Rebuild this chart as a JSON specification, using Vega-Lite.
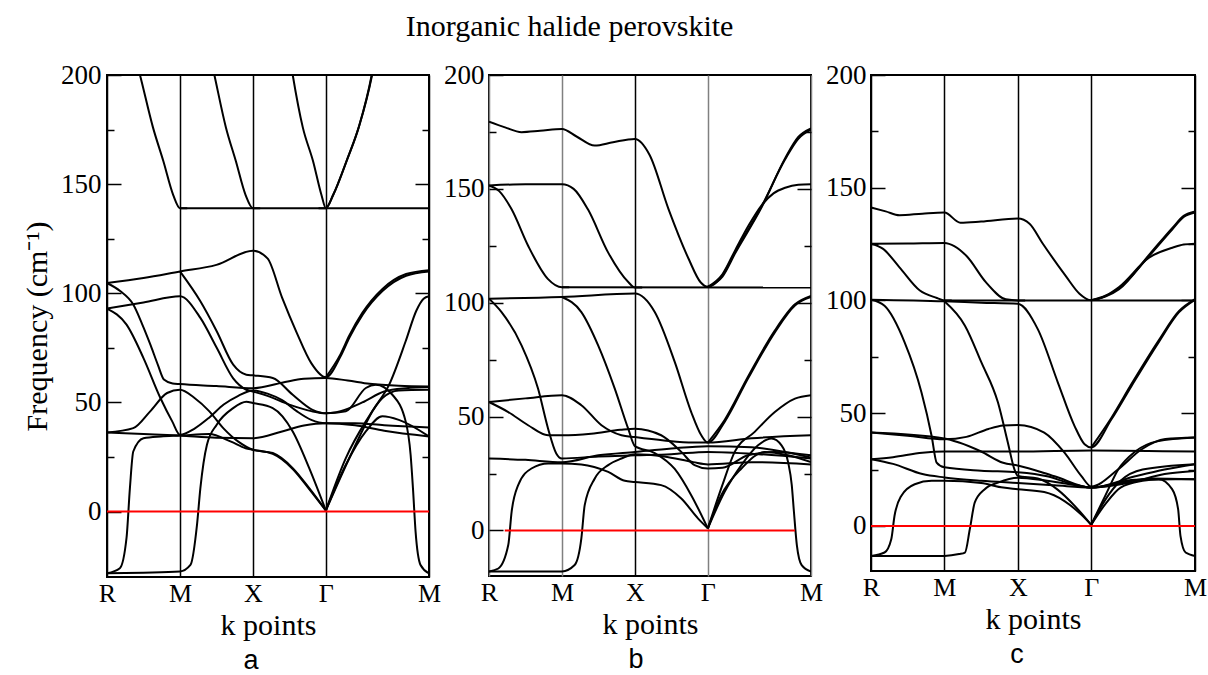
{
"$schema": "https://vega.github.io/schema/vega-lite/v6.json",
"background": "white",
"padding": {"left": 21, "top": 12, "right": 2, "bottom": 0},
"title": {"text": "Inorganic halide perovskite", "font": "Liberation Serif", "fontSize": 30, "fontWeight": "normal", "color": "black", "anchor": "middle", "offset": 18, "dx": -45},
"spacing": 60,
"bounds": "flush",
"datasets": {
"ra": [{"k": 0, "k2": 2.207, "v": 0}],
"rb": [{"k": 0.108, "k2": 2.097, "v": 0}],
"rc": [{"k": 0, "k2": 2.207, "v": 0}],
"a": [
{"s":"a1","k":0,"v":104.7},{"s":"a1","k":0.25,"v":107},{"s":"a1","k":0.5,"v":110},{"s":"a1","k":0.75,"v":113},{"s":"a1","k":1.0,"v":119.5},{"s":"a1","k":1.1,"v":116},{"s":"a1","k":1.2,"v":98},{"s":"a1","k":1.3,"v":82},{"s":"a1","k":1.4,"v":68},{"s":"a1","k":1.5,"v":61.5},{"s":"a1","k":1.6,"v":71},{"s":"a1","k":1.66,"v":79.5},{"s":"a1","k":1.75,"v":90},{"s":"a1","k":1.888,"v":101},{"s":"a1","k":2.05,"v":108},{"s":"a1","k":2.207,"v":110},
{"s":"a2","k":1.5,"v":61.5},{"s":"a2","k":1.6,"v":72},{"s":"a2","k":1.66,"v":80.5},{"s":"a2","k":1.75,"v":91},{"s":"a2","k":1.888,"v":102},{"s":"a2","k":2.05,"v":108.8},{"s":"a2","k":2.207,"v":110.6},
{"s":"a3","k":0,"v":104.7},{"s":"a3","k":0.09,"v":101},{"s":"a3","k":0.18,"v":94.8},{"s":"a3","k":0.24,"v":86},{"s":"a3","k":0.3,"v":76},{"s":"a3","k":0.35,"v":67},{"s":"a3","k":0.39,"v":60.5},{"s":"a3","k":0.45,"v":58.7},{"s":"a3","k":0.5,"v":58.4},{"s":"a3","k":0.75,"v":57.5},{"s":"a3","k":1.0,"v":56.5},{"s":"a3","k":1.2,"v":59},{"s":"a3","k":1.35,"v":60.8},{"s":"a3","k":1.5,"v":61.2},{"s":"a3","k":1.65,"v":60},{"s":"a3","k":1.8,"v":58.5},{"s":"a3","k":2.0,"v":57.6},{"s":"a3","k":2.207,"v":57.3},
{"s":"a4","k":0,"v":93},{"s":"a4","k":0.134,"v":85.6},{"s":"a4","k":0.25,"v":70.3},{"s":"a4","k":0.366,"v":52},{"s":"a4","k":0.447,"v":41.3},{"s":"a4","k":0.5,"v":35.2},{"s":"a4","k":0.6,"v":38},{"s":"a4","k":0.7,"v":43},{"s":"a4","k":0.8,"v":49},{"s":"a4","k":0.9,"v":53},{"s":"a4","k":1.0,"v":55.5},{"s":"a4","k":1.1,"v":54},{"s":"a4","k":1.2,"v":51},{"s":"a4","k":1.3,"v":46},{"s":"a4","k":1.4,"v":42},{"s":"a4","k":1.5,"v":40.5},{"s":"a4","k":1.7,"v":40.5},{"s":"a4","k":1.9,"v":39.5},{"s":"a4","k":2.207,"v":38.5},
{"s":"a5","k":0,"v":93},{"s":"a5","k":0.25,"v":95.8},{"s":"a5","k":0.5,"v":98.6},{"s":"a5","k":0.64,"v":88.7},{"s":"a5","k":0.752,"v":75},{"s":"a5","k":0.865,"v":61},{"s":"a5","k":0.955,"v":55.8},{"s":"a5","k":1.0,"v":55},{"s":"a5","k":1.1,"v":53},{"s":"a5","k":1.25,"v":49},{"s":"a5","k":1.4,"v":46},{"s":"a5","k":1.5,"v":45},{"s":"a5","k":1.637,"v":45.9},{"s":"a5","k":1.774,"v":56.6},{"s":"a5","k":1.842,"v":58.1},{"s":"a5","k":1.956,"v":53.5},{"s":"a5","k":2.047,"v":41.3},{"s":"a5","k":2.081,"v":26},{"s":"a5","k":2.097,"v":10.7},{"s":"a5","k":2.115,"v":-9.2},{"s":"a5","k":2.149,"v":-24.5},{"s":"a5","k":2.207,"v":-28.3},
{"s":"a6","k":0.5,"v":110},{"s":"a6","k":0.64,"v":96.3},{"s":"a6","k":0.752,"v":82.6},{"s":"a6","k":0.865,"v":67.3},{"s":"a6","k":0.955,"v":62.7},{"s":"a6","k":1.0,"v":62.4},{"s":"a6","k":1.136,"v":61.2},{"s":"a6","k":1.273,"v":53.5},{"s":"a6","k":1.409,"v":46.6},{"s":"a6","k":1.5,"v":45},{"s":"a6","k":1.6,"v":46},{"s":"a6","k":1.75,"v":50},{"s":"a6","k":1.9,"v":55},{"s":"a6","k":2.05,"v":56.5},{"s":"a6","k":2.207,"v":57},
{"s":"a7","k":0,"v":36.2},{"s":"a7","k":0.18,"v":38.2},{"s":"a7","k":0.296,"v":45.9},{"s":"a7","k":0.412,"v":54.3},{"s":"a7","k":0.5,"v":55.8},{"s":"a7","k":0.6,"v":52},{"s":"a7","k":0.7,"v":46},{"s":"a7","k":0.8,"v":38},{"s":"a7","k":0.9,"v":32},{"s":"a7","k":1.0,"v":28.3},{"s":"a7","k":1.136,"v":26.8},{"s":"a7","k":1.273,"v":19.9},{"s":"a7","k":1.386,"v":10.7},{"s":"a7","k":1.5,"v":0.5},
{"s":"a7g","k":1.5,"v":0.5},{"s":"a7g","k":1.637,"v":21.4},{"s":"a7g","k":1.774,"v":36.7},{"s":"a7g","k":1.888,"v":43.6},{"s":"a7g","k":2.0,"v":42},{"s":"a7g","k":2.207,"v":34.4},
{"s":"a8","k":0,"v":36.2},{"s":"a8","k":0.25,"v":35.5},{"s":"a8","k":0.5,"v":34.8},{"s":"a8","k":0.75,"v":33.8},{"s":"a8","k":1.0,"v":33.6},{"s":"a8","k":1.2,"v":36.7},{"s":"a8","k":1.35,"v":39.4},{"s":"a8","k":1.5,"v":40.5},{"s":"a8","k":1.7,"v":39.5},{"s":"a8","k":1.9,"v":37},{"s":"a8","k":2.207,"v":34.4},
{"s":"a9","k":0,"v":-28.3},{"s":"a9","k":0.088,"v":-26},{"s":"a9","k":0.134,"v":-12},{"s":"a9","k":0.157,"v":10.7},{"s":"a9","k":0.18,"v":27.5},{"s":"a9","k":0.25,"v":33.6},{"s":"a9","k":0.37,"v":34.4},{"s":"a9","k":0.5,"v":34.8},{"s":"a9","k":0.7,"v":35.5},{"s":"a9","k":0.85,"v":32},{"s":"a9","k":0.95,"v":29},{"s":"a9","k":1.0,"v":28.3},{"s":"a9","k":1.136,"v":26.4},{"s":"a9","k":1.273,"v":19.5},{"s":"a9","k":1.386,"v":10.3},{"s":"a9","k":1.5,"v":0.5},
{"s":"a9g","k":1.5,"v":0.5},{"s":"a9g","k":1.682,"v":27.5},{"s":"a9g","k":1.819,"v":45.9},{"s":"a9g","k":1.933,"v":58},{"s":"a9g","k":2.047,"v":78},{"s":"a9g","k":2.12,"v":92},{"s":"a9g","k":2.17,"v":97.5},{"s":"a9g","k":2.207,"v":98.6},
{"s":"a10","k":0,"v":-28.3},{"s":"a10","k":0.25,"v":-28},{"s":"a10","k":0.5,"v":-27.5},{"s":"a10","k":0.572,"v":-24.5},{"s":"a10","k":0.617,"v":-6},{"s":"a10","k":0.64,"v":10.7},{"s":"a10","k":0.685,"v":30.6},{"s":"a10","k":0.752,"v":39.8},{"s":"a10","k":0.865,"v":47.4},{"s":"a10","k":0.955,"v":50.3},{"s":"a10","k":1.0,"v":49.7},{"s":"a10","k":1.136,"v":47.4},{"s":"a10","k":1.273,"v":36.7},{"s":"a10","k":1.386,"v":19.9},{"s":"a10","k":1.5,"v":0.5},
{"s":"a10g","k":1.5,"v":0.5},{"s":"a10g","k":1.637,"v":24.5},{"s":"a10g","k":1.774,"v":41.3},{"s":"a10g","k":1.888,"v":52},{"s":"a10g","k":2.0,"v":55.5},{"s":"a10g","k":2.207,"v":55.8},
{"s":"a11","k":0.5,"v":139},{"s":"a11","k":2.207,"v":139},
{"s":"a12","k":0.17,"v":214},{"s":"a12","k":0.226,"v":200},{"s":"a12","k":0.315,"v":176},{"s":"a12","k":0.386,"v":160.6},{"s":"a12","k":0.454,"v":145},{"s":"a12","k":0.5,"v":139},{"s":"a12","k":0.55,"v":139},
{"s":"a13","k":0.69,"v":214},{"s":"a13","k":0.736,"v":200},{"s":"a13","k":0.815,"v":176},{"s":"a13","k":0.883,"v":160.6},{"s":"a13","k":0.95,"v":145},{"s":"a13","k":1.0,"v":139},{"s":"a13","k":1.05,"v":139},
{"s":"a14","k":1.24,"v":214},{"s":"a14","k":1.273,"v":200},{"s":"a14","k":1.342,"v":176},{"s":"a14","k":1.412,"v":160.6},{"s":"a14","k":1.47,"v":145},{"s":"a14","k":1.5,"v":139},{"s":"a14","k":1.55,"v":145},{"s":"a14","k":1.642,"v":160.6},{"s":"a14","k":1.725,"v":176},{"s":"a14","k":1.814,"v":200},{"s":"a14","k":1.84,"v":210},
{"s":"a16","k":1.45,"v":139},{"s":"a16","k":1.5,"v":139},{"s":"a16","k":1.553,"v":145.5},{"s":"a16","k":1.647,"v":161.5},{"s":"a16","k":1.731,"v":177.2},{"s":"a16","k":1.82,"v":201},{"s":"a16","k":1.845,"v":210}
],
"b": [
{"s":"b1","k":0,"v":179.5},{"s":"b1","k":0.11,"v":177},{"s":"b1","k":0.223,"v":174.9},{"s":"b1","k":0.35,"v":175.5},{"s":"b1","k":0.5,"v":176.3},{"s":"b1","k":0.6,"v":173},{"s":"b1","k":0.724,"v":169},{"s":"b1","k":0.85,"v":170.5},{"s":"b1","k":1.0,"v":171.9},{"s":"b1","k":1.1,"v":165},{"s":"b1","k":1.231,"v":141},{"s":"b1","k":1.368,"v":119.3},{"s":"b1","k":1.45,"v":109},{"s":"b1","k":1.5,"v":107},{"s":"b1","k":1.6,"v":112},{"s":"b1","k":1.687,"v":122.3},{"s":"b1","k":1.871,"v":142.7},{"s":"b1","k":2.03,"v":163},{"s":"b1","k":2.12,"v":172},{"s":"b1","k":2.207,"v":176},
{"s":"b1b","k":1.5,"v":107},{"s":"b1b","k":1.6,"v":112.5},{"s":"b1b","k":1.687,"v":123},{"s":"b1b","k":1.78,"v":134},{"s":"b1b","k":1.871,"v":143},{"s":"b1b","k":1.95,"v":148},{"s":"b1b","k":2.03,"v":150.5},{"s":"b1b","k":2.12,"v":151.8},{"s":"b1b","k":2.207,"v":152},
{"s":"b1c","k":1.5,"v":107},{"s":"b1c","k":1.6,"v":111.5},{"s":"b1c","k":1.687,"v":121.7},{"s":"b1c","k":1.871,"v":142.2},{"s":"b1c","k":2.03,"v":163.5},{"s":"b1c","k":2.12,"v":172.8},{"s":"b1c","k":2.207,"v":176.6},
{"s":"b2","k":0,"v":151.5},{"s":"b2","k":0.25,"v":152},{"s":"b2","k":0.5,"v":152},{"s":"b2","k":0.58,"v":150},{"s":"b2","k":0.678,"v":141},{"s":"b2","k":0.817,"v":122},{"s":"b2","k":0.956,"v":109},{"s":"b2","k":1.0,"v":106.7},{"s":"b2","k":1.05,"v":106.7},
{"s":"b3","k":0,"v":151.5},{"s":"b3","k":0.07,"v":149},{"s":"b3","k":0.155,"v":141},{"s":"b3","k":0.268,"v":125},{"s":"b3","k":0.403,"v":110.5},{"s":"b3","k":0.5,"v":106.8},{"s":"b3","k":0.55,"v":106.8},
{"s":"b4","k":0.5,"v":106.8},{"s":"b4","k":2.207,"v":106.7},
{"s":"b5","k":0,"v":101.8},{"s":"b5","k":0.5,"v":102.5},{"s":"b5","k":1.0,"v":104},{"s":"b5","k":1.136,"v":95.9},{"s":"b5","k":1.273,"v":74},{"s":"b5","k":1.386,"v":52},{"s":"b5","k":1.455,"v":41.8},{"s":"b5","k":1.5,"v":38.6},{"s":"b5","k":1.615,"v":47.7},{"s":"b5","k":1.775,"v":66.7},{"s":"b5","k":1.959,"v":87},{"s":"b5","k":2.097,"v":98.8},{"s":"b5","k":2.207,"v":102.5},
{"s":"b5b","k":1.5,"v":38.6},{"s":"b5b","k":1.615,"v":48.5},{"s":"b5b","k":1.775,"v":67.5},{"s":"b5b","k":1.959,"v":87.8},{"s":"b5b","k":2.097,"v":99.3},{"s":"b5b","k":2.207,"v":103},
{"s":"b6","k":0,"v":101.8},{"s":"b6","k":0.086,"v":95.9},{"s":"b6","k":0.223,"v":81.3},{"s":"b6","k":0.336,"v":62.3},{"s":"b6","k":0.405,"v":44.7},{"s":"b6","k":0.461,"v":33.8},{"s":"b6","k":0.5,"v":31.6},{"s":"b6","k":0.75,"v":32.5},{"s":"b6","k":1.0,"v":33},{"s":"b6","k":1.25,"v":33.5},{"s":"b6","k":1.5,"v":34.5},{"s":"b6","k":1.85,"v":33.5},{"s":"b6","k":2.207,"v":31.6},
{"s":"b7","k":0.5,"v":102.5},{"s":"b7","k":0.633,"v":95.9},{"s":"b7","k":0.748,"v":81.3},{"s":"b7","k":0.862,"v":62.3},{"s":"b7","k":0.954,"v":44.7},{"s":"b7","k":1.0,"v":37},{"s":"b7","k":1.136,"v":34},{"s":"b7","k":1.273,"v":27},{"s":"b7","k":1.386,"v":15.5},{"s":"b7","k":1.5,"v":0.9},
{"s":"b7g","k":1.5,"v":0.9},{"s":"b7g","k":1.592,"v":15.5},{"s":"b7g","k":1.73,"v":27.2},{"s":"b7g","k":1.89,"v":34.5},{"s":"b7g","k":2.05,"v":33},{"s":"b7g","k":2.207,"v":30},
{"s":"b8","k":0,"v":56.4},{"s":"b8","k":0.25,"v":58},{"s":"b8","k":0.5,"v":59.4},{"s":"b8","k":0.633,"v":55},{"s":"b8","k":0.771,"v":46.2},{"s":"b8","k":0.908,"v":41.8},{"s":"b8","k":1.0,"v":41},{"s":"b8","k":1.2,"v":39.5},{"s":"b8","k":1.4,"v":38.6},{"s":"b8","k":1.5,"v":38.6},{"s":"b8","k":1.8,"v":40.5},{"s":"b8","k":2.207,"v":41.8},
{"s":"b9","k":0,"v":56.4},{"s":"b9","k":0.132,"v":52},{"s":"b9","k":0.268,"v":46.2},{"s":"b9","k":0.405,"v":41.8},{"s":"b9","k":0.5,"v":41.8},{"s":"b9","k":0.7,"v":42.5},{"s":"b9","k":0.9,"v":44.2},{"s":"b9","k":1.0,"v":44.7},{"s":"b9","k":1.18,"v":41.8},{"s":"b9","k":1.318,"v":34.5},{"s":"b9","k":1.409,"v":28.7},{"s":"b9","k":1.5,"v":27.2},{"s":"b9","k":1.6,"v":27.5},{"s":"b9","k":1.775,"v":33},{"s":"b9","k":1.959,"v":34.5},{"s":"b9","k":2.207,"v":33},
{"s":"b10","k":0,"v":31.6},{"s":"b10","k":0.25,"v":31},{"s":"b10","k":0.5,"v":30},{"s":"b10","k":0.75,"v":33},{"s":"b10","k":1.0,"v":34.5},{"s":"b10","k":1.25,"v":36},{"s":"b10","k":1.5,"v":37},{"s":"b10","k":1.8,"v":36.5},{"s":"b10","k":2.207,"v":32},
{"s":"b11","k":0,"v":-18},{"s":"b11","k":0.064,"v":-16.7},{"s":"b11","k":0.132,"v":-6.4},{"s":"b11","k":0.155,"v":8.2},{"s":"b11","k":0.2,"v":19.9},{"s":"b11","k":0.291,"v":27.2},{"s":"b11","k":0.405,"v":29.4},{"s":"b11","k":0.5,"v":29.4},{"s":"b11","k":0.633,"v":29},{"s":"b11","k":0.817,"v":25.7},{"s":"b11","k":0.931,"v":21.8},{"s":"b11","k":1.0,"v":21.3},{"s":"b11","k":1.18,"v":19.9},{"s":"b11","k":1.318,"v":14},{"s":"b11","k":1.432,"v":5.3},{"s":"b11","k":1.5,"v":0.9},
{"s":"b11g","k":1.5,"v":0.9},{"s":"b11g","k":1.615,"v":17},{"s":"b11g","k":1.73,"v":28.7},{"s":"b11g","k":1.844,"v":37.4},{"s":"b11g","k":1.936,"v":40.4},{"s":"b11g","k":2.005,"v":37.4},{"s":"b11g","k":2.05,"v":30},{"s":"b11g","k":2.075,"v":20},{"s":"b11g","k":2.09,"v":8.2},{"s":"b11g","k":2.11,"v":-6.4},{"s":"b11g","k":2.143,"v":-15.2},{"s":"b11g","k":2.207,"v":-18},
{"s":"b12","k":0,"v":-18},{"s":"b12","k":0.5,"v":-18},{"s":"b12","k":0.587,"v":-15.2},{"s":"b12","k":0.633,"v":-3.5},{"s":"b12","k":0.656,"v":11.1},{"s":"b12","k":0.725,"v":22.8},{"s":"b12","k":0.817,"v":28.7},{"s":"b12","k":0.908,"v":31.6},{"s":"b12","k":1.0,"v":33.5},{"s":"b12","k":1.2,"v":32.5},{"s":"b12","k":1.4,"v":30},{"s":"b12","k":1.5,"v":29},{"s":"b12","k":1.8,"v":30},{"s":"b12","k":2.207,"v":29},
{"s":"b13","k":1.5,"v":0.9},{"s":"b13","k":1.6,"v":20},{"s":"b13","k":1.684,"v":34.5},{"s":"b13","k":1.821,"v":43.3},{"s":"b13","k":1.959,"v":52},{"s":"b13","k":2.097,"v":57.9},{"s":"b13","k":2.207,"v":59.4}
],
"c": [
{"s":"c1","k":0,"v":141.2},{"s":"c1","k":0.1,"v":139.5},{"s":"c1","k":0.194,"v":137.8},{"s":"c1","k":0.35,"v":138.5},{"s":"c1","k":0.5,"v":139},{"s":"c1","k":0.609,"v":134.5},{"s":"c1","k":0.75,"v":135},{"s":"c1","k":1.0,"v":136.3},{"s":"c1","k":1.08,"v":134},{"s":"c1","k":1.166,"v":125.6},{"s":"c1","k":1.326,"v":110.9},{"s":"c1","k":1.42,"v":103},{"s":"c1","k":1.5,"v":100.1},{"s":"c1","k":1.6,"v":102},{"s":"c1","k":1.69,"v":105.5},{"s":"c1","k":1.894,"v":119.7},{"s":"c1","k":2.053,"v":131.6},{"s":"c1","k":2.13,"v":137},{"s":"c1","k":2.207,"v":139},
{"s":"c1b","k":1.5,"v":100.1},{"s":"c1b","k":1.6,"v":102.2},{"s":"c1b","k":1.69,"v":106},{"s":"c1b","k":1.894,"v":119},{"s":"c1b","k":2.053,"v":123.4},{"s":"c1b","k":2.13,"v":124.8},{"s":"c1b","k":2.207,"v":125.2},
{"s":"c1c","k":1.5,"v":100.1},{"s":"c1c","k":1.6,"v":101.8},{"s":"c1c","k":1.69,"v":105},{"s":"c1c","k":1.894,"v":120.2},{"s":"c1c","k":2.053,"v":132.2},{"s":"c1c","k":2.13,"v":137.5},{"s":"c1c","k":2.207,"v":139.5},
{"s":"c2","k":0,"v":125.2},{"s":"c2","k":0.25,"v":125.3},{"s":"c2","k":0.5,"v":125.5},{"s":"c2","k":0.57,"v":124},{"s":"c2","k":0.651,"v":119.7},{"s":"c2","k":0.785,"v":107.9},{"s":"c2","k":0.918,"v":100.5},{"s":"c2","k":1.0,"v":100},{"s":"c2","k":1.05,"v":100},
{"s":"c3","k":0,"v":125.2},{"s":"c3","k":0.08,"v":123},{"s":"c3","k":0.194,"v":114.7},{"s":"c3","k":0.333,"v":104.4},{"s":"c3","k":0.449,"v":101.1},{"s":"c3","k":0.5,"v":100},{"s":"c3","k":0.55,"v":100},
{"s":"c4","k":0.5,"v":100},{"s":"c4","k":2.207,"v":100},
{"s":"c5","k":0,"v":100.3},{"s":"c5","k":0.5,"v":99.6},{"s":"c5","k":0.75,"v":99},{"s":"c5","k":1.0,"v":98.5},{"s":"c5","k":1.136,"v":87.3},{"s":"c5","k":1.273,"v":63.6},{"s":"c5","k":1.386,"v":44.4},{"s":"c5","k":1.455,"v":36.2},{"s":"c5","k":1.5,"v":34.8},{"s":"c5","k":1.638,"v":47.3},{"s":"c5","k":1.775,"v":62.1},{"s":"c5","k":1.959,"v":81.4},{"s":"c5","k":2.097,"v":94.7},{"s":"c5","k":2.207,"v":100.3},
{"s":"c5b","k":1.5,"v":34.8},{"s":"c5b","k":1.638,"v":48},{"s":"c5b","k":1.775,"v":63},{"s":"c5b","k":1.959,"v":82.2},{"s":"c5b","k":2.097,"v":95.2},{"s":"c5b","k":2.207,"v":100.6},
{"s":"c6","k":0,"v":100.3},{"s":"c6","k":0.092,"v":97.6},{"s":"c6","k":0.229,"v":81.4},{"s":"c6","k":0.344,"v":59.2},{"s":"c6","k":0.413,"v":39.9},{"s":"c6","k":0.447,"v":28.1},{"s":"c6","k":0.5,"v":26},{"s":"c6","k":0.75,"v":24.5},{"s":"c6","k":1.0,"v":23.8},{"s":"c6","k":1.2,"v":22},{"s":"c6","k":1.35,"v":19},{"s":"c6","k":1.5,"v":17},{"s":"c6","k":1.7,"v":19},{"s":"c6","k":1.9,"v":21},{"s":"c6","k":2.207,"v":20.7},
{"s":"c7","k":0.5,"v":99.6},{"s":"c7","k":0.64,"v":88.8},{"s":"c7","k":0.752,"v":72.5},{"s":"c7","k":0.865,"v":54.7},{"s":"c7","k":0.932,"v":37},{"s":"c7","k":0.977,"v":25.1},{"s":"c7","k":1.0,"v":22.2},{"s":"c7","k":1.136,"v":21},{"s":"c7","k":1.273,"v":16},{"s":"c7","k":1.386,"v":9},{"s":"c7","k":1.5,"v":0.5},
{"s":"c7g","k":1.5,"v":0.5},{"s":"c7g","k":1.6,"v":14},{"s":"c7g","k":1.684,"v":25},{"s":"c7g","k":1.8,"v":33},{"s":"c7g","k":1.95,"v":37.5},{"s":"c7g","k":2.207,"v":39.2},
{"s":"c8","k":0,"v":41.4},{"s":"c8","k":0.25,"v":40},{"s":"c8","k":0.5,"v":38.4},{"s":"c8","k":0.65,"v":39.5},{"s":"c8","k":0.8,"v":43},{"s":"c8","k":0.9,"v":44.5},{"s":"c8","k":1.0,"v":44.8},{"s":"c8","k":1.18,"v":41.4},{"s":"c8","k":1.318,"v":32.5},{"s":"c8","k":1.432,"v":22.2},{"s":"c8","k":1.5,"v":17.5},{"s":"c8","k":1.684,"v":25.1},{"s":"c8","k":1.844,"v":34},{"s":"c8","k":2.005,"v":38.5},{"s":"c8","k":2.207,"v":39.2},
{"s":"c9","k":0,"v":41.4},{"s":"c9","k":0.5,"v":38.8},{"s":"c9","k":0.6,"v":37},{"s":"c9","k":0.75,"v":33},{"s":"c9","k":0.9,"v":28},{"s":"c9","k":1.0,"v":26.8},{"s":"c9","k":1.25,"v":22},{"s":"c9","k":1.5,"v":17},{"s":"c9","k":1.8,"v":22},{"s":"c9","k":2.0,"v":25},{"s":"c9","k":2.207,"v":27.4},
{"s":"c10","k":0,"v":29.6},{"s":"c10","k":0.15,"v":30.5},{"s":"c10","k":0.35,"v":32.5},{"s":"c10","k":0.5,"v":33},{"s":"c10","k":1.0,"v":33},{"s":"c10","k":1.5,"v":33.5},{"s":"c10","k":2.207,"v":33},
{"s":"c11","k":0,"v":29.6},{"s":"c11","k":0.15,"v":27.5},{"s":"c11","k":0.35,"v":23},{"s":"c11","k":0.5,"v":21.5},{"s":"c11","k":0.75,"v":20},{"s":"c11","k":1.0,"v":19},{"s":"c11","k":1.25,"v":18},{"s":"c11","k":1.5,"v":17},{"s":"c11","k":1.75,"v":19},{"s":"c11","k":2.0,"v":23},{"s":"c11","k":2.207,"v":24.4},
{"s":"c12","k":0,"v":-13.3},{"s":"c12","k":0.092,"v":-11.8},{"s":"c12","k":0.138,"v":-5.9},{"s":"c12","k":0.16,"v":4.4},{"s":"c12","k":0.206,"v":13.3},{"s":"c12","k":0.298,"v":18.5},{"s":"c12","k":0.413,"v":20},{"s":"c12","k":0.5,"v":20},{"s":"c12","k":0.75,"v":19},{"s":"c12","k":0.9,"v":17},{"s":"c12","k":1.0,"v":16.3},{"s":"c12","k":1.18,"v":15},{"s":"c12","k":1.318,"v":11},{"s":"c12","k":1.432,"v":5},{"s":"c12","k":1.5,"v":0.5},
{"s":"c12g","k":1.5,"v":0.5},{"s":"c12g","k":1.6,"v":10},{"s":"c12g","k":1.7,"v":17},{"s":"c12g","k":1.85,"v":20},{"s":"c12g","k":1.959,"v":20.7},{"s":"c12g","k":2.051,"v":16.3},{"s":"c12g","k":2.092,"v":7.4},{"s":"c12g","k":2.108,"v":-4.4},{"s":"c12g","k":2.143,"v":-11.8},{"s":"c12g","k":2.207,"v":-13.3},
{"s":"c13","k":0,"v":-13.3},{"s":"c13","k":0.5,"v":-13.3},{"s":"c13","k":0.6,"v":-12.5},{"s":"c13","k":0.64,"v":-11.8},{"s":"c13","k":0.673,"v":-1.5},{"s":"c13","k":0.707,"v":10.4},{"s":"c13","k":0.775,"v":16.3},{"s":"c13","k":0.865,"v":19.2},{"s":"c13","k":1.0,"v":21.4},{"s":"c13","k":1.2,"v":20},{"s":"c13","k":1.4,"v":18},{"s":"c13","k":1.5,"v":17},{"s":"c13","k":1.8,"v":20.5},{"s":"c13","k":2.207,"v":20.7},
{"s":"c14","k":1.5,"v":0.5},{"s":"c14","k":1.6,"v":12},{"s":"c14","k":1.7,"v":20},{"s":"c14","k":1.85,"v":25},{"s":"c14","k":2.207,"v":27.4}
]
},
"hconcat": [
{
"width": 322, "height": 502,
"title": {"text": "a", "orient": "bottom", "frame": "group", "font": "Liberation Sans", "fontSize": 27, "fontWeight": "normal", "color": "black", "offset": 8, "dx": -17},
"layer": [
{"data": {"name": "a"},
 "mark": {"type": "line", "interpolate": "monotone", "color": "black", "strokeWidth": 2, "clip": true},
 "encoding": {
  "x": {"field": "k", "type": "quantitative", "scale": {"domain": [0, 2.207], "nice": false, "zero": false},
   "axis": {"values": [0, 0.5, 1, 1.5, 2.207], "labelExpr": "datum.value == 0 ? 'R' : datum.value == 0.5 ? 'M' : datum.value == 1 ? 'X' : datum.value == 1.5 ? 'Γ' : 'M'", "ticks": false, "domain": false, "grid": true, "gridColor": "black", "gridWidth": 1.5, "gridOpacity": 1, "labelFontSize": 26, "labelPadding": 3, "labelFlush": false, "labelOverlap": false, "title": "k points", "titlePadding": 4}},
  "y": {"field": "v", "type": "quantitative", "scale": {"domain": [-30, 200], "nice": false, "zero": false},
   "axis": {"values": [0, 25, 50, 75, 100, 125, 150, 175, 200], "labelExpr": "datum.value % 50 === 0 ? datum.label : ''", "tickSize": {"condition": {"test": "datum.value % 50 === 0", "value": -14}, "value": -7}, "tickColor": "black", "tickWidth": 1.5, "domain": false, "grid": false, "labelPadding": 20, "labelOverlap": false, "labelFlush": false, "title": "Frequency (cm⁻¹)", "titlePadding": 8}},
  "detail": {"field": "s", "type": "nominal"}
 }},
{"data": {"name": "ra"},
 "mark": {"type": "rule", "color": "#ff0000", "strokeWidth": 2},
 "encoding": {
  "x": {"field": "k", "type": "quantitative", "title": "k points"},
  "x2": {"field": "k2"},
  "y": {"field": "v", "type": "quantitative", "scale": {"domain": [-30, 200], "nice": false, "zero": false},
   "axis": {"orient": "right", "values": [25, 50, 75, 100, 125, 150, 175], "labels": false, "tickSize": {"condition": {"test": "datum.value % 50 === 0", "value": -14}, "value": -7}, "tickColor": "black", "tickWidth": 1.5, "domain": false, "grid": false, "title": null}}
 }}
],
"resolve": {"axis": {"y": "independent"}}
},
{
"width": 322, "height": 501,
"title": {"text": "b", "orient": "bottom", "frame": "group", "font": "Liberation Sans", "fontSize": 27, "fontWeight": "normal", "color": "black", "offset": 8, "dx": -14},
"layer": [
{"data": {"name": "b"},
 "mark": {"type": "line", "interpolate": "monotone", "color": "black", "strokeWidth": 2, "clip": true},
 "encoding": {
  "x": {"field": "k", "type": "quantitative", "scale": {"domain": [0, 2.207], "nice": false, "zero": false},
   "axis": {"values": [0, 0.5, 1, 1.5, 2.207], "labelExpr": "datum.value == 0 ? 'R' : datum.value == 0.5 ? 'M' : datum.value == 1 ? 'X' : datum.value == 1.5 ? 'Γ' : 'M'", "ticks": false, "domain": false, "grid": true, "gridColor": {"condition": {"test": "datum.value == 1", "value": "black"}, "value": "#808080"}, "gridWidth": 1.5, "gridOpacity": 1, "labelFontSize": 26, "labelPadding": 3, "labelFlush": false, "labelOverlap": false, "title": "k points", "titlePadding": 4}},
  "y": {"field": "v", "type": "quantitative", "scale": {"domain": [-20, 200], "nice": false, "zero": false},
   "axis": {"values": [0, 25, 50, 75, 100, 125, 150, 175, 200], "labelExpr": "datum.value % 50 === 0 ? datum.label : ''", "tickSize": {"condition": {"test": "datum.value % 50 === 0", "value": -14}, "value": -7}, "tickColor": "black", "tickWidth": 1.5, "domain": false, "grid": false, "labelPadding": 19, "labelOverlap": false, "labelFlush": false, "title": null}},
  "detail": {"field": "s", "type": "nominal"}
 }},
{"data": {"name": "rb"},
 "mark": {"type": "rule", "color": "#ff0000", "strokeWidth": 2},
 "encoding": {
  "x": {"field": "k", "type": "quantitative", "title": "k points"},
  "x2": {"field": "k2"},
  "y": {"field": "v", "type": "quantitative", "scale": {"domain": [-20, 200], "nice": false, "zero": false},
   "axis": {"orient": "right", "values": [25, 50, 75, 100, 125, 150, 175], "labels": false, "tickSize": {"condition": {"test": "datum.value % 50 === 0", "value": -14}, "value": -7}, "tickColor": "black", "tickWidth": 1.5, "domain": false, "grid": false, "title": null}}
 }}
],
"resolve": {"axis": {"y": "independent"}}
},
{
"width": 324, "height": 496,
"title": {"text": "c", "orient": "bottom", "frame": "group", "font": "Liberation Sans", "fontSize": 27, "fontWeight": "normal", "color": "black", "offset": 8, "dx": -16},
"layer": [
{"data": {"name": "c"},
 "mark": {"type": "line", "interpolate": "monotone", "color": "black", "strokeWidth": 2, "clip": true},
 "encoding": {
  "x": {"field": "k", "type": "quantitative", "scale": {"domain": [0, 2.207], "nice": false, "zero": false},
   "axis": {"values": [0, 0.5, 1, 1.5, 2.207], "labelExpr": "datum.value == 0 ? 'R' : datum.value == 0.5 ? 'M' : datum.value == 1 ? 'X' : datum.value == 1.5 ? 'Γ' : 'M'", "ticks": false, "domain": false, "grid": true, "gridColor": "black", "gridWidth": 1.5, "gridOpacity": 1, "labelFontSize": 26, "labelPadding": 3, "labelFlush": false, "labelOverlap": false, "title": "k points", "titlePadding": 4}},
  "y": {"field": "v", "type": "quantitative", "scale": {"domain": [-20, 200], "nice": false, "zero": false},
   "axis": {"values": [0, 25, 50, 75, 100, 125, 150, 175, 200], "labelExpr": "datum.value % 50 === 0 ? datum.label : ''", "tickSize": {"condition": {"test": "datum.value % 50 === 0", "value": -14}, "value": -7}, "tickColor": "black", "tickWidth": 1.5, "domain": false, "grid": false, "labelPadding": 19, "labelOverlap": false, "labelFlush": false, "title": null}},
  "detail": {"field": "s", "type": "nominal"}
 }},
{"data": {"name": "rc"},
 "mark": {"type": "rule", "color": "#ff0000", "strokeWidth": 2},
 "encoding": {
  "x": {"field": "k", "type": "quantitative", "title": "k points"},
  "x2": {"field": "k2"},
  "y": {"field": "v", "type": "quantitative", "scale": {"domain": [-20, 200], "nice": false, "zero": false},
   "axis": {"orient": "right", "values": [25, 50, 75, 100, 125, 150, 175], "labels": false, "tickSize": {"condition": {"test": "datum.value % 50 === 0", "value": -14}, "value": -7}, "tickColor": "black", "tickWidth": 1.5, "domain": false, "grid": false, "title": null}}
 }}
],
"resolve": {"axis": {"y": "independent"}}
}
],
"config": {
 "view": {"stroke": "black", "strokeWidth": 2},
 "axis": {"labelFont": "Liberation Serif", "titleFont": "Liberation Serif", "labelColor": "black", "titleColor": "black", "titleFontWeight": "normal", "labelFontSize": 27, "titleFontSize": 30}
}
}
